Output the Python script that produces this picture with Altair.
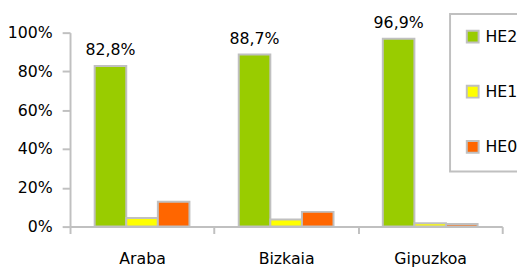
import altair as alt
import pandas as pd

provinces = ["Araba", "Bizkaia", "Gipuzkoa"]
levels = ["HE2", "HE1", "HE0"]
he2 = [82.8, 88.7, 96.9]
he1 = [4.4, 3.7, 1.7]
he0 = [12.8, 7.6, 1.4]
colors = ["#99cc00", "#ffff00", "#ff6600"]
y_ticks = [0, 20, 40, 60, 80, 100]

rows = []
for i, p in enumerate(provinces):
    for lvl, vals in zip(levels, [he2, he1, he0]):
        rows.append({"prov": p, "level": lvl, "value": vals[i]})
df = pd.DataFrame(rows)

FONT = "DejaVu Sans"
GREY = "#c0c0c0"

x_enc = alt.X(
    "prov:N",
    sort=provinces,
    scale=alt.Scale(paddingInner=0, paddingOuter=0),
    axis=alt.Axis(
        title=None, labelAngle=0, tickBand="extent", tickSize=7,
        labelPadding=17, labelFontSize=16, labelFont=FONT, labelColor="#000",
    ),
)
xo_enc = alt.XOffset(
    "level:N", sort=levels,
    scale=alt.Scale(domain=levels, paddingInner=0, paddingOuter=0.78),
)
y_enc = alt.Y(
    "value:Q",
    scale=alt.Scale(domain=[0, 100]),
    axis=alt.Axis(
        title=None, values=y_ticks, labelExpr="datum.value + '%'",
        tickSize=8, labelPadding=10, labelFontSize=16, labelFont=FONT,
        labelColor="#000", grid=False,
    ),
)

bars = alt.Chart(df).mark_bar(stroke=GREY, strokeWidth=2).encode(
    x=x_enc,
    xOffset=xo_enc,
    y=y_enc,
    color=alt.Color(
        "level:N",
        scale=alt.Scale(domain=levels, range=colors),
        legend=alt.Legend(
            title=None, orient="none", legendX=386, legendY=-19,
            strokeColor=GREY, fillColor="white", padding=15,
            rowPadding=36, symbolType="square", symbolSize=144,
            symbolStrokeColor=GREY, symbolStrokeWidth=2,
            labelFontSize=16, labelFont=FONT, labelOffset=5, labelColor="#000",
        ),
    ),
)

labels = alt.Chart(df).transform_filter(
    alt.datum.level == "HE2"
).transform_calculate(
    lab="replace(format(datum.value, '.1f'), '.', ',') + '%'"
).mark_text(baseline="bottom", dy=-8, fontSize=16, font=FONT, color="#000").encode(
    x=x_enc, xOffset=xo_enc, y=y_enc, text="lab:N"
)

chart = alt.layer(bars, labels).properties(
    width=439, height=197,
    autosize=alt.AutoSizeParams(type="none"),
    padding={"left": 63, "top": 23, "right": 15, "bottom": 40},
).configure_view(stroke=None).configure_axis(
    domainColor=GREY, domainWidth=2, tickColor=GREY, tickWidth=2,
).configure_legend(strokeWidth=2)

chart.save("out.html", embed_options={"renderer": "svg", "actions": False})
